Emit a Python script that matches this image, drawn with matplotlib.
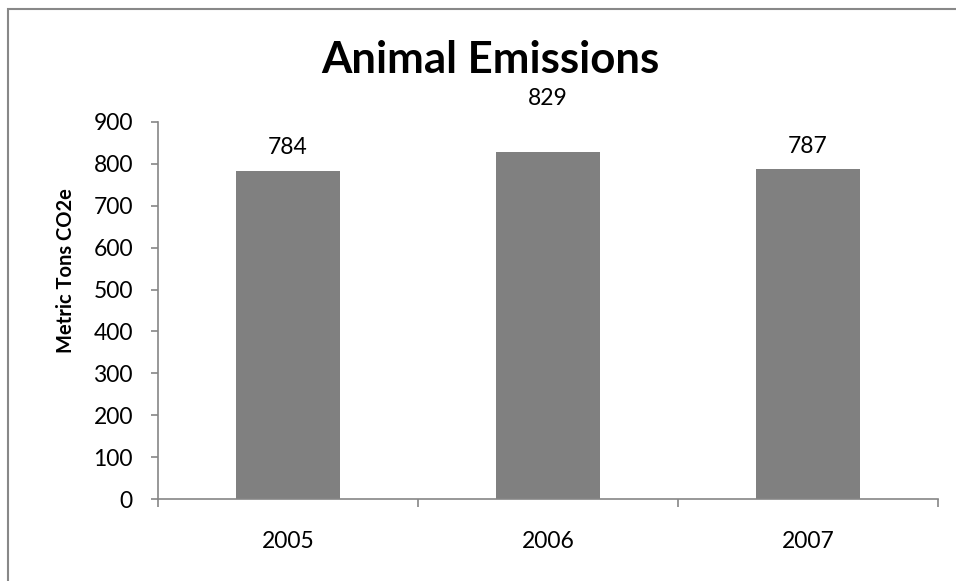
import matplotlib
matplotlib.use('Agg')
import matplotlib.pyplot as plt
from matplotlib.patches import Rectangle

years = ['2005', '2006', '2007']
emissions = [784, 829, 787]
yticks = [0, 100, 200, 300, 400, 500, 600, 700, 800, 900]

plt.rcParams['font.family'] = ['Lato', 'DejaVu Sans']
grey = '#868686'
fs = 16.5

fig = plt.figure(figsize=(9.56, 5.81), dpi=100)
ax = fig.add_axes([158 / 956, 1 - 499 / 581, 780 / 956, 377 / 581])

x = range(len(years))
bars = ax.bar(x, emissions, width=0.4, color='#808080', zorder=2)

# the 2006 label sits higher above its bar
label_offsets = [9, 31, 9]
for xi, v, off in zip(x, emissions, label_offsets):
    ax.annotate(str(v), (xi, v), xytext=(0, off), textcoords='offset points',
                ha='center', va='bottom', fontsize=fs)

ax.set_xlim(-0.5, len(years) - 0.5)
ax.set_ylim(0, 900)
ax.set_yticks(yticks)
ax.tick_params(axis='y', length=5, width=1.2, color=grey, pad=13, labelsize=fs)

# category boundaries get the ticks, labels sit at the centres
ax.set_xticks([i - 0.5 for i in range(len(years) + 1)])
ax.set_xticklabels([])
ax.set_xticks(list(x), minor=True)
ax.set_xticklabels(years, minor=True)
ax.tick_params(axis='x', which='major', length=6, width=1.2, color=grey)
ax.tick_params(axis='x', which='minor', length=0, pad=23, labelsize=fs)

for side in ['top', 'right']:
    ax.spines[side].set_visible(False)
for side in ['left', 'bottom']:
    ax.spines[side].set_color(grey)
    ax.spines[side].set_linewidth(1.2)

fig.text(490 / 956, 1 - 73 / 581, 'Animal Emissions', ha='center', va='baseline',
         fontsize=31.5, fontweight='bold')
fig.text(66 / 956, 1 - 271 / 581, 'Metric Tons CO2e', rotation=90, ha='center',
         va='center', fontsize=14.5, fontweight='bold')

# chart area frame
fig.patches.append(Rectangle((8 / 956, -0.2), 1.2, 1.2 - 10 / 581 + 0.001,
                             transform=fig.transFigure, fill=False,
                             edgecolor='#888888', linewidth=1.5))

fig.savefig('out.png', dpi=100)
